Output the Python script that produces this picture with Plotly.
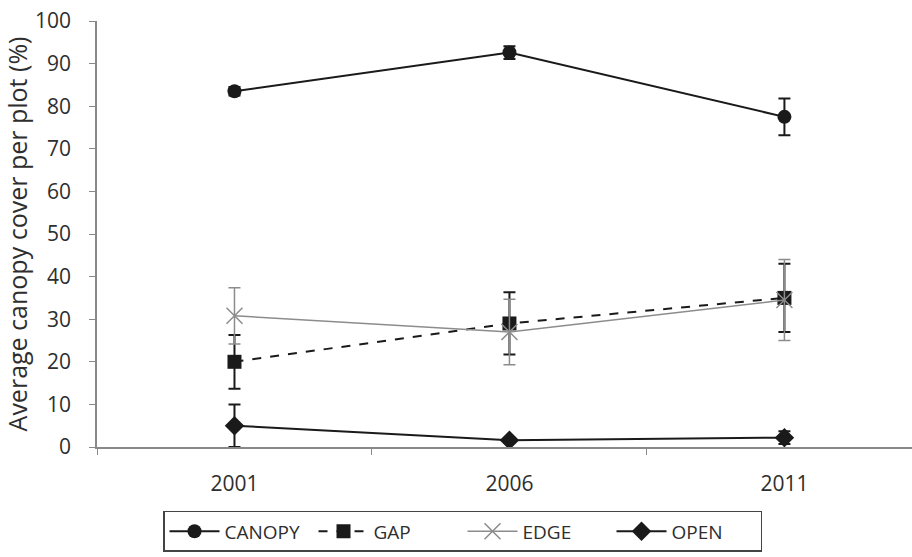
import plotly.graph_objects as go

years = ["2001", "2006", "2011"]
canopy = [83.5, 92.6, 77.5]
canopy_err = [1.0, 1.5, 4.3]
gap = [20.0, 29.0, 35.0]
gap_err = [6.3, 7.3, 8.0]
edge = [30.8, 27.0, 34.5]
edge_err = [6.6, 7.7, 9.5]
open_ = [5.0, 1.6, 2.2]
open_err = [5.0, 0.6, 1.5]
y_ticks = list(range(0, 101, 10))

FONT = "Open Sans"
BLACK = "#1a1a1a"
GRAY = "#8c8c8c"
TXT = "#2e2e2e"

fig = go.Figure()

def add(name, y, err, color, symbol, dash, lw, msize, mline=None):
    marker = dict(symbol=symbol, size=msize, color=color)
    if mline:
        marker["line"] = mline
    fig.add_trace(go.Scatter(
        x=years, y=y, name=name, mode="lines+markers",
        line=dict(color=color, width=lw, dash=dash),
        marker=marker,
        error_y=dict(type="data", array=err, visible=True, color=color,
                     thickness=2 if color == BLACK else 1.5, width=6),
    ))

add("CANOPY", canopy, canopy_err, BLACK, "circle", "solid", 2, 14)
add("GAP", gap, gap_err, BLACK, "square", "dash", 2, 14)
add("EDGE", edge, edge_err, GRAY, "x-thin-open", "solid", 1.5, 16,
    mline=dict(color=GRAY, width=1.5))
add("OPEN", open_, open_err, BLACK, "diamond", "solid", 2, 15)

fig.update_layout(
    width=912, height=557,
    margin=dict(l=97, r=0, t=21, b=110),
    paper_bgcolor="white", plot_bgcolor="white",
    font=dict(family=FONT, size=20, color=TXT),
    showlegend=True,
    legend=dict(
        orientation="h", x=0.081, xanchor="left", y=-0.15, yanchor="top",
        bordercolor="#444444", borderwidth=1.5, itemwidth=50,
        entrywidth=84,
        font=dict(family=FONT, size=19, color=TXT),
        traceorder="normal", bgcolor="white",
    ),
    xaxis=dict(
        type="category", range=[-0.5, 2.464],
        showline=True, linecolor="#888888", linewidth=1.5,
        ticks="outside", tickson="boundaries", ticklen=6, tickcolor="#888888",
        ticklabelstandoff=17,
        showgrid=False, zeroline=False,
        tickfont=dict(family=FONT, size=21, color=TXT),
    ),
    yaxis=dict(
        range=[0, 100], tickvals=y_ticks,
        showline=True, linecolor="#888888", linewidth=1.5,
        ticks="outside", ticklen=6, tickcolor="#888888",
        ticklabelstandoff=14,
        showgrid=False, zeroline=False,
        tickfont=dict(family=FONT, size=21, color=TXT),
        title=dict(text="Average canopy cover per plot (%)",
                   font=dict(family=FONT, size=25, color=TXT), standoff=1),
    ),
)

fig.write_html("out.html")
